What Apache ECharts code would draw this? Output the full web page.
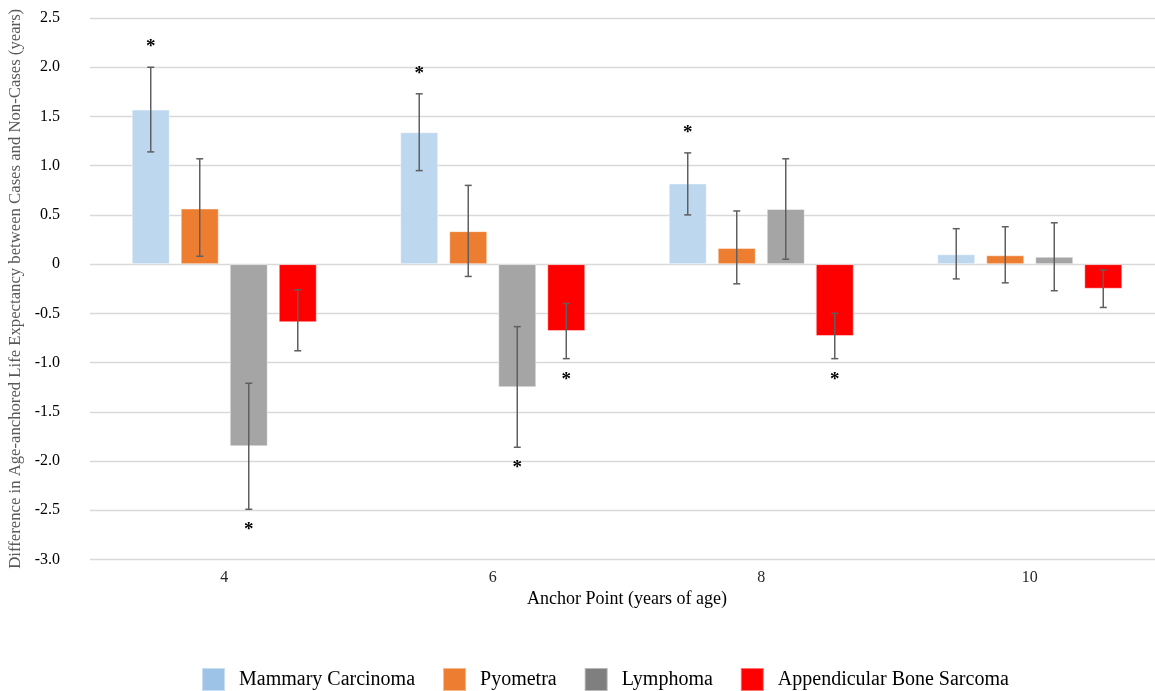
<!DOCTYPE html>
<html>
<head>
<meta charset="utf-8">
<script src="https://cdn.jsdelivr.net/npm/echarts@6/dist/echarts.min.js"></script>
<style>
html,body{margin:0;padding:0;background:#fff;overflow:hidden;}
#chart{width:1155px;height:691px;}
</style>
</head>
<body>
<div id="chart"></div>
<script>
const categories = ['4', '6', '8', '10'];
const seriesNames = ['Mammary Carcinoma', 'Pyometra', 'Lymphoma', 'Appendicular Bone Sarcoma'];

const mammary = [1.57, 1.34, 0.82, 0.10];
const mammaryLow = [1.14, 0.95, 0.50, -0.15];
const mammaryHigh = [2.00, 1.73, 1.13, 0.36];
const mammarySig = [1, 1, 1, 0];

const pyometra = [0.565, 0.335, 0.165, 0.09];
const pyometraLow = [0.08, -0.125, -0.20, -0.19];
const pyometraHigh = [1.07, 0.80, 0.54, 0.38];
const pyometraSig = [0, 0, 0, 0];

const lymphoma = [-1.85, -1.25, 0.56, 0.075];
const lymphomaLow = [-2.49, -1.86, 0.05, -0.27];
const lymphomaHigh = [-1.21, -0.635, 1.07, 0.42];
const lymphomaSig = [1, 1, 0, 0];

const bone = [-0.59, -0.68, -0.73, -0.25];
const boneLow = [-0.88, -0.96, -0.96, -0.44];
const boneHigh = [-0.26, -0.40, -0.50, -0.06];
const boneSig = [0, 1, 1, 0];

const barColors = ['#BDD7EE', '#ED7D31', '#A5A5A5', '#FF0000'];
const legendColors = ['#9DC3E6', '#ED7D31', '#7F7F7F', '#FF0000'];

const means = [mammary, pyometra, lymphoma, bone];
const lows = [mammaryLow, pyometraLow, lymphomaLow, boneLow];
const highs = [mammaryHigh, pyometraHigh, lymphomaHigh, boneHigh];
const sigs = [mammarySig, pyometraSig, lymphomaSig, boneSig];

const BAR_FRAC = 0.1415;   // bar width as fraction of category band
const GAP_FRAC = 0.29;     // gap between bars as fraction of bar width
const FONT = '"Liberation Serif", "Times New Roman", serif';

const chart = echarts.init(document.getElementById('chart'), null, {renderer: 'canvas'});

const barSeries = seriesNames.map((name, s) => ({
  name: name,
  type: 'bar',
  data: means[s],
  barWidth: (BAR_FRAC * 100) + '%',
  barGap: (GAP_FRAC * 100) + '%',
  itemStyle: {color: barColors[s], borderColor: 'rgba(255,255,255,0.45)', borderWidth: 1},
  emphasis: {disabled: true},
  z: 2
}));

const errSeries = seriesNames.map((name, s) => ({
  name: name + ' error',
  type: 'custom',
  z: 3,
  silent: true,
  encode: {x: 0, y: [1, 2]},
  data: categories.map((c, i) => [i, lows[s][i], highs[s][i], sigs[s][i], means[s][i]]),
  renderItem: function (params, api) {
    const ci = api.value(0);
    const lo = api.value(1);
    const hi = api.value(2);
    const sig = api.value(3);
    const mean = api.value(4);
    const band = api.size([1, 0])[0];
    const bw = band * BAR_FRAC;
    const step = bw * (1 + GAP_FRAC);
    const off = (s - 1.5) * step;
    const pLo = api.coord([ci, lo]);
    const pHi = api.coord([ci, hi]);
    const x = pLo[0] + off;
    const cap = 3.5;
    const lineStyle = {stroke: '#5F5F5F', lineWidth: 1.5};
    const children = [
      {type: 'line', shape: {x1: x, y1: pHi[1], x2: x, y2: pLo[1]}, style: lineStyle},
      {type: 'line', shape: {x1: x - cap, y1: pHi[1], x2: x + cap, y2: pHi[1]}, style: lineStyle},
      {type: 'line', shape: {x1: x - cap, y1: pLo[1], x2: x + cap, y2: pLo[1]}, style: lineStyle}
    ];
    if (sig) {
      const y = mean >= 0 ? pHi[1] - 20 : pLo[1] + 21;
      children.push({
        type: 'text',
        style: {text: '*', x: x, y: y, align: 'center', verticalAlign: 'middle',
                fontSize: 19, fontWeight: 'bold', fontFamily: FONT, fill: '#000'}
      });
    }
    return {type: 'group', children: children};
  }
}));

const option = {
  backgroundColor: '#fff',
  animation: false,
  grid: {left: 90, right: -9, top: 18, bottom: 131.5, containLabel: false, outerBoundsMode: 'none'},
  legend: {
    data: seriesNames.map((n, s) => ({name: n, itemStyle: {color: legendColors[s]}})),
    left: 201,
    top: 667,
    padding: 0,
    icon: 'rect',
    itemWidth: 23,
    itemHeight: 23,
    itemGap: 27,
    selectedMode: false,
    textStyle: {fontFamily: FONT, fontSize: 20, color: '#000', padding: [4, 0, 0, 9]}
  },
  xAxis: {
    type: 'category',
    data: categories,
    position: 'bottom',
    axisLine: {show: false},
    axisTick: {show: false},
    axisLabel: {fontFamily: FONT, fontSize: 16, color: '#262626', margin: 10},
    name: 'Anchor Point (years of age)',
    nameLocation: 'middle',
    nameGap: 31,
    nameTextStyle: {fontFamily: FONT, fontSize: 18, color: '#000'}
  },
  yAxis: {
    type: 'value',
    min: -3,
    max: 2.5,
    interval: 0.5,
    axisLine: {show: false},
    axisTick: {show: false},
    splitLine: {show: true, lineStyle: {color: '#D9D9D9', width: 1.3}},
    axisLabel: {
      fontFamily: FONT, fontSize: 16, color: '#000', margin: 30,
      formatter: v => (Math.abs(v) < 1e-9 ? '0' : v.toFixed(1))
    },
    name: 'Difference in Age-anchored Life Expectancy between Cases and Non-Cases (years)',
    nameLocation: 'middle',
    nameGap: 63,
    nameTextStyle: {fontFamily: FONT, fontSize: 16.7, color: '#595959'}
  },
  series: barSeries.concat(errSeries)
};

chart.setOption(option);
</script>
</body>
</html>
